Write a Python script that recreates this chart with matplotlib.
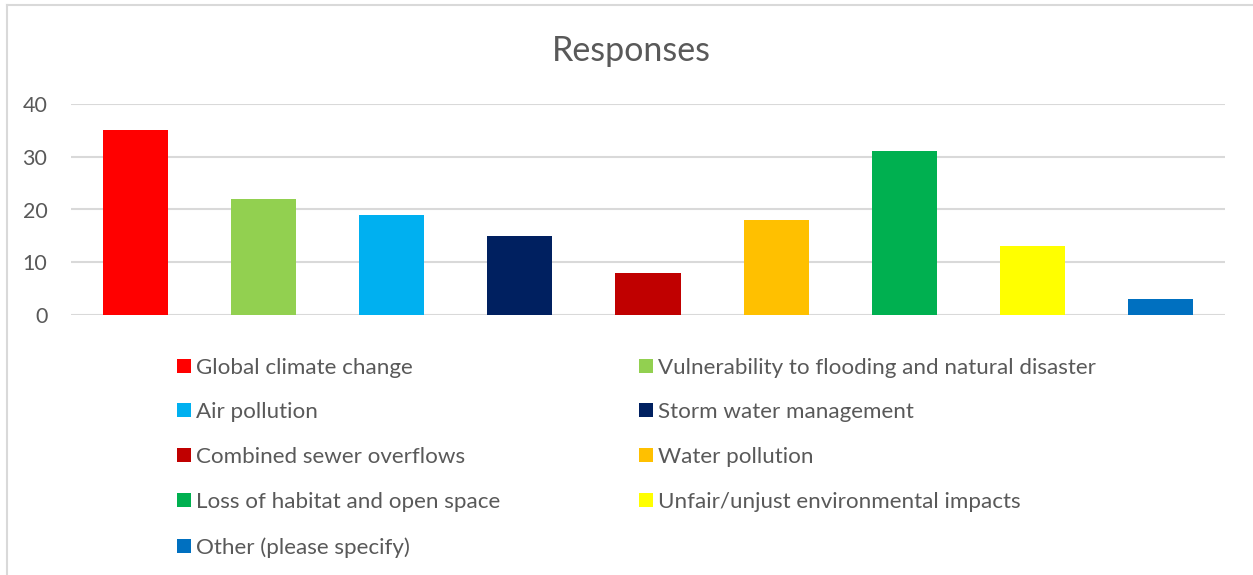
import matplotlib
matplotlib.use("Agg")
import matplotlib.pyplot as plt
from matplotlib.patches import Rectangle
from matplotlib.lines import Line2D

categories = [
    "Global climate change",
    "Vulnerability to flooding and natural disaster",
    "Air pollution",
    "Storm water management",
    "Combined sewer overflows",
    "Water pollution",
    "Loss of habitat and open space",
    "Unfair/unjust environmental impacts",
    "Other (please specify)",
]
values = [35, 22, 19, 15, 8, 18, 31, 13, 3]
colors = ["#FF0000", "#92D050", "#00B0F0", "#002060", "#C00000",
          "#FFC000", "#00B050", "#FFFF00", "#0070C0"]
yticks = [0, 10, 20, 30, 40]
title = "Responses"

plt.rcParams['font.family'] = ['Lato', 'DejaVu Sans']
W, H = 1253, 575
fig = plt.figure(figsize=(W / 100, H / 100), dpi=100)

def fx(px):
    return px / W

def fy(py):
    return 1 - py / H

ax = fig.add_axes([fx(71), fy(315), fx(1225) - fx(71), fy(104) - fy(315)])
x = list(range(len(values)))
ax.bar(x, values, width=0.507, color=colors, zorder=3)
ax.set_xlim(-0.5, len(values) - 0.5)
ax.set_ylim(0, 40)
ax.set_yticks(yticks)
ax.set_xticks([])
ax.grid(axis='y', color='#D9D9D9', linewidth=1.5, zorder=0)
for s in ax.spines.values():
    s.set_visible(False)
ax.tick_params(axis='y', length=0, pad=17, labelsize=15.5, labelcolor='#595959')

fig.text(fx(631), fy(51), title, ha='center', va='center', fontsize=24.5, color='#595959')

# legend, row-wise in two columns
col_x = [177, 639]
row_y = [366, 410, 455, 500, 546]
for i, (lab, c) in enumerate(zip(categories, colors)):
    r, cidx = divmod(i, 2)
    px, py = col_x[cidx], row_y[r]
    fig.add_artist(Rectangle((fx(px), fy(py + 7)), fx(14), 14 / H,
                             transform=fig.transFigure, color=c, lw=0))
    fig.text(fx(px + 19), fy(py + 2), lab, ha='left', va='center',
             fontsize=16.1, color='#595959')

# chart border
fig.add_artist(Line2D([fx(7), fx(7)], [fy(5), 0], transform=fig.transFigure,
                      color='#D9D9D9', lw=1.5))
fig.add_artist(Line2D([fx(7), fx(1252)], [fy(5), fy(5)], transform=fig.transFigure,
                      color='#D9D9D9', lw=1.5))

fig.savefig("out.png", dpi=100)
